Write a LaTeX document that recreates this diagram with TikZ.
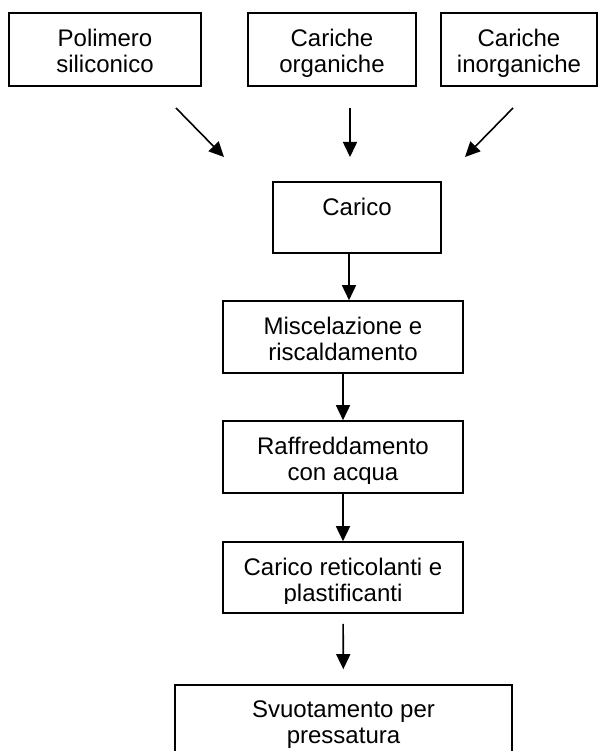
\documentclass[tikz,border=0pt]{standalone}
\usepackage{fontspec}
\setmainfont{Liberation Sans}
\usetikzlibrary{arrows.meta}
% testo di un riquadro: larghezza, altezza, righe
\newcommand\boxtxt[3]{%
\fontsize{24}{26}\selectfont%
\parbox[c][#2][t]{#1}{\centering\vspace*{16pt}#3}%
}

\begin{document}
\begin{tikzpicture}[x=1pt,y=-1pt,
    stepbox/.style={draw,line width=1.6pt,inner sep=0pt},
    flow/.style={line width=1.6pt,-{Triangle[length=15pt,width=14pt]}}]
    \clip (0,0) rectangle (599,751);

    % materie prime
    \node[stepbox] (poly) at (105,49.5)
      {\boxtxt{192pt}{73pt}{Polimero\\siliconico}};
    \node[stepbox] (org) at (332,49.5)
      {\boxtxt{168pt}{73pt}{Cariche\\organiche}};
    \node[stepbox] (inorg) at (519,49.5)
      {\boxtxt{156pt}{73pt}{Cariche\\inorganiche}};

    % frecce verso il carico
    \coordinate (p1) at (176,108);
    \coordinate (q1) at (224,157);
    \coordinate (p2) at (350,108);
    \coordinate (q2) at (350,157);
    \coordinate (p3) at (513,108);
    \coordinate (q3) at (465,157);
    \draw[flow] (p1) -- (q1);
    \draw[flow] (p2) -- (q2);
    \draw[flow] (p3) -- (q3);

    % fasi del processo
    \node[stepbox] (carico) at (357,217.5)
      {\boxtxt{168pt}{71pt}{Carico}};
    \node[stepbox] (mix) at (343,337)
      {\boxtxt{240pt}{72pt}{Miscelazione e\\riscaldamento}};
    \node[stepbox] (cool) at (343,457)
      {\boxtxt{240pt}{72pt}{Raffreddamento\\con acqua}};
    \node[stepbox] (addit) at (343,577.5)
      {\boxtxt{240pt}{71pt}{Carico reticolanti e\\plastificanti}};
    \node[stepbox] (press) at (343.5,725)
      {\boxtxt{337pt}{80pt}{Svuotamento per\\pressatura}};

    % il testo resta tagliato sul fondo della casella
    \foreach \n in {org,inorg,cool,addit}
    {
      \fill[white] ([xshift=2pt,yshift=2pt]\n.south west)
        rectangle ([xshift=-2pt,yshift=10pt]\n.south east);
    }

    \draw[flow] ([xshift=-8pt]carico.south) -- ([xshift=-8pt]carico.south |- mix.north);
    \draw[flow] (mix) -- (cool);
    \draw[flow] (cool) -- (addit);
    \draw[flow,shorten <=10pt,shorten >=15pt] (addit) -- (press);
\end{tikzpicture}
\end{document}
